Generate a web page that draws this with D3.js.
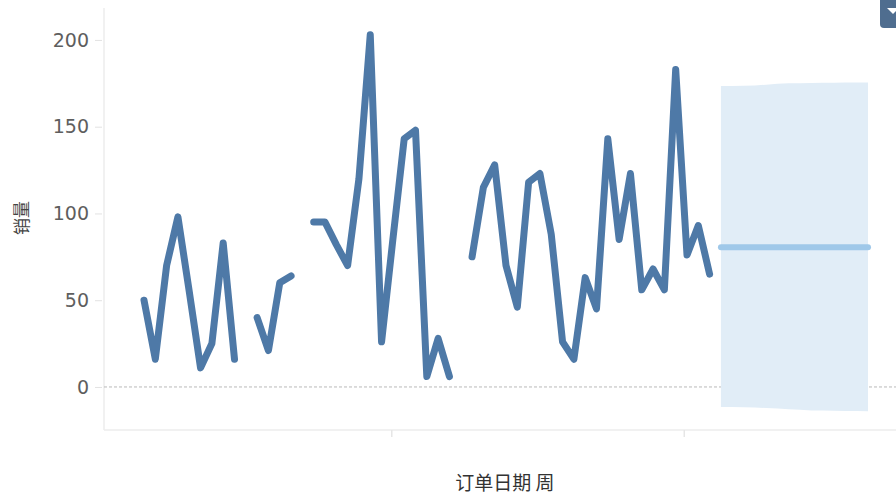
<!DOCTYPE html>
<html>
<head>
<meta charset="utf-8">
<script src="https://cdn.jsdelivr.net/npm/d3@7"></script>
<style>
  html, body { margin: 0; padding: 0; background: #fff; }
  svg { display: block; }
</style>
</head>
<body>
<svg id="chart" width="896" height="496"></svg>
<script>
// Weekly sales (销量); null marks a week with no orders, which breaks the line.
const startWeek = new Date(2018, 7, 1);
const sales = [
  50, 16, 70, 98, 55, 11, 25, 83, 16,
  null,
  40, 21, 60, 64,
  null,
  95, 95, 82, 70, 120, 203, 26, 85, 143, 148, 6, 28, 6,
  null,
  75, 115, 128, 70, 46, 118, 123, 88, 26, 16, 63, 45, 143, 85, 123, 56, 68, 56, 183, 76, 93, 65
];
// Forecast for the following weeks: estimate with its prediction interval.
const forecastMean  = [80.5, 80.5, 80.5, 80.5, 80.5, 80.5, 80.5, 80.5, 80.5, 80.5, 80.5, 80.5, 80.5, 80.5];
const forecastUpper = [173.5, 173.5, 173.6, 173.8, 174.2, 174.8, 175.0, 175.1, 175.2, 175.3, 175.3, 175.4, 175.5, 175.5];
const forecastLower = [-11.5, -11.6, -11.7, -11.9, -12.1, -12.4, -12.8, -13.2, -13.5, -13.6, -13.7, -13.8, -13.9, -14.0];
const yTicks = [0, 50, 100, 150, 200];
const yTitle = "销量";
const xTitle = "订单日期 周";

const weekDate = i => d3.timeWeek.offset(startWeek, i);
const history = sales.map((v, i) => ({ date: weekDate(i), value: v }));
const forecast = forecastMean.map((v, i) => ({
  date: weekDate(sales.length + i),
  value: v,
  upper: forecastUpper[i],
  lower: forecastLower[i]
}));

const svg = d3.select("#chart");
const plot = { left: 104, right: 896, top: 8, bottom: 430 };

const x = d3.scaleTime()
  .domain([weekDate(0), weekDate(sales.length + forecastMean.length - 1)])
  .range([144, 868]);
const y = d3.scaleLinear()
  .domain([-24.8, 218.4])
  .range([plot.bottom, plot.top]);

const fontFamily = "'DejaVu Sans', 'Noto Sans CJK SC', sans-serif";

// plot frame: faint left and bottom rules
svg.append("line")
  .attr("x1", plot.left).attr("x2", plot.left)
  .attr("y1", plot.top).attr("y2", plot.bottom)
  .attr("stroke", "#ececec").attr("stroke-width", 1.5);
svg.append("line")
  .attr("x1", plot.left).attr("x2", plot.right)
  .attr("y1", plot.bottom).attr("y2", plot.bottom)
  .attr("stroke", "#ececec").attr("stroke-width", 1.5);

// y axis: short grey ticks with labels, no domain line
const yAxis = svg.append("g")
  .attr("transform", `translate(${plot.left - 2},0)`)
  .call(d3.axisLeft(y).tickValues(yTicks).tickSize(7).tickPadding(6).tickFormat(d3.format("d")));
yAxis.select(".domain").remove();
yAxis.selectAll(".tick line").attr("stroke", "#e2e2e2");
yAxis.selectAll(".tick text")
  .attr("fill", "#5e5e5e")
  .style("font-family", fontFamily)
  .style("font-size", "19px");

// x axis: half-year ticks without labels
const xAxis = svg.append("g")
  .attr("transform", `translate(0,${plot.bottom})`)
  .call(d3.axisBottom(x).ticks(d3.timeMonth.every(6)).tickSize(7).tickFormat(""));
xAxis.select(".domain").remove();
xAxis.selectAll(".tick line").attr("stroke", "#e6e6e6").attr("stroke-width", 1.5);

// zero reference line
svg.append("line")
  .attr("x1", plot.left).attr("x2", plot.right)
  .attr("y1", y(0)).attr("y2", y(0))
  .attr("stroke", "#b9b9b9")
  .attr("stroke-width", 1)
  .attr("stroke-dasharray", "3,2");

// forecast interval band
svg.append("path")
  .datum(forecast)
  .attr("fill", "#e1edf7")
  .attr("d", d3.area()
    .x(d => x(d.date))
    .y0(d => y(d.lower))
    .y1(d => y(d.upper)));

// forecast estimate
svg.append("path")
  .datum(forecast)
  .attr("fill", "none")
  .attr("stroke", "#9fc8e9")
  .attr("stroke-width", 6)
  .attr("stroke-linecap", "round")
  .attr("d", d3.line().x(d => x(d.date)).y(d => y(d.value)));

// actual weekly sales
svg.append("path")
  .datum(history)
  .attr("fill", "none")
  .attr("stroke", "#4e79a7")
  .attr("stroke-width", 7)
  .attr("stroke-linecap", "round")
  .attr("stroke-linejoin", "round")
  .attr("d", d3.line()
    .defined(d => d.value !== null)
    .x(d => x(d.date))
    .y(d => y(d.value)));

// axis titles
svg.append("text")
  .attr("transform", "translate(28,218) rotate(-90)")
  .attr("text-anchor", "middle")
  .attr("fill", "#444")
  .style("font-family", "'Noto Sans CJK SC', sans-serif")
  .style("font-size", "17px")
  .text(yTitle);

svg.append("text")
  .attr("x", 505)
  .attr("y", 490)
  .attr("text-anchor", "middle")
  .attr("fill", "#333")
  .style("font-family", "'Noto Sans CJK SC', sans-serif")
  .style("font-size", "19px")
  .text(xTitle);

// menu button in the top-right corner
svg.append("rect")
  .attr("x", 880).attr("y", -6)
  .attr("width", 22).attr("height", 34)
  .attr("rx", 4)
  .attr("fill", "#4f6d8f");
svg.append("path")
  .attr("d", "M887,8 L899,8 L893,14 Z")
  .attr("fill", "#fff");
</script>
</body>
</html>
